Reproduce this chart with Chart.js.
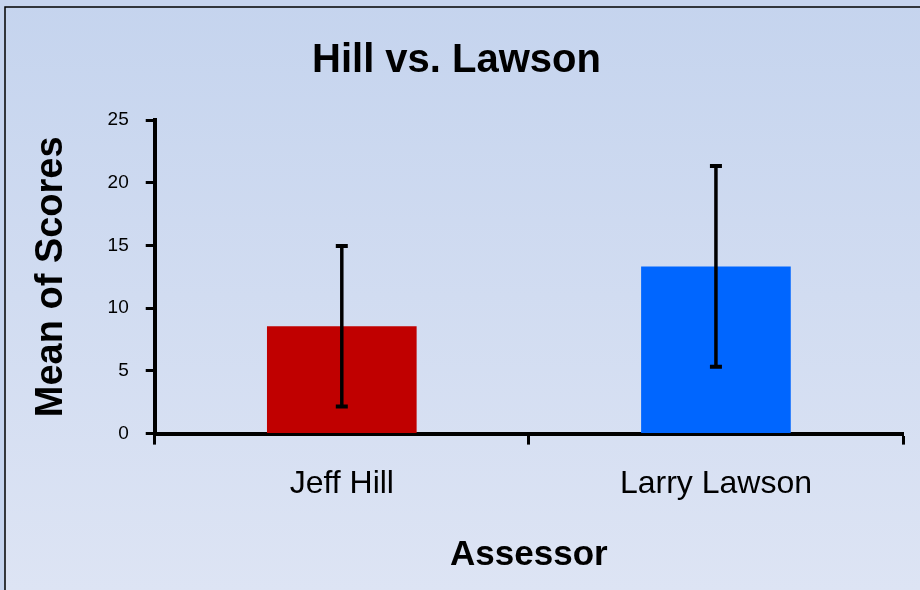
<!DOCTYPE html>
<html>
<head>
<meta charset="utf-8">
<title>Hill vs. Lawson</title>
<script src="https://cdn.jsdelivr.net/npm/chart.js@4.4.1/dist/chart.umd.min.js"></script>
<style>
    html, body { margin: 0; padding: 0; background: #c6d4ee; }
    canvas { display: block; }
</style>
</head>
<body>
<canvas id="chart" width="920" height="590"></canvas>
<script>
// data
const assessors = ['Jeff Hill', 'Larry Lawson'];
const meanScores = [8.56, 13.33];
const sdScores = [6.4, 8.0];
const barColors = ['#C00000', '#0066FF'];
const yMin = 0;
const yMax = 25;
const yStep = 5;

const fontName = "'Liberation Sans', Arial, sans-serif";

// gradient background + frame like the excel chart box
const chartBox = {
    id: 'chartBox',
    beforeDraw(chart) {
        const ctx = chart.ctx;
        const w = chart.width, h = chart.height;
        ctx.save();
        ctx.fillStyle = '#c6d4ee';
        ctx.fillRect(0, 0, w, h);
        const grad = ctx.createLinearGradient(0, 0, 0, h);
        grad.addColorStop(0, '#c5d4ee');
        grad.addColorStop(1, '#dde4f4');
        ctx.fillStyle = grad;
        ctx.fillRect(5, 7, w, h);
        ctx.strokeStyle = '#000';
        ctx.lineWidth = 1.5;
        ctx.strokeRect(5, 7, w + 10, h + 10);
        ctx.restore();
    }
};

// standard deviation whiskers
const errorBars = {
    id: 'errorBars',
    afterDatasetsDraw(chart) {
        const ctx = chart.ctx;
        const yScale = chart.scales.y;
        const meta = chart.getDatasetMeta(0);
        ctx.save();
        ctx.strokeStyle = '#000';
        meta.data.forEach((bar, i) => {
            const x = bar.x;
            const top = yScale.getPixelForValue(meanScores[i] + sdScores[i]);
            const bottom = yScale.getPixelForValue(meanScores[i] - sdScores[i]);
            ctx.lineWidth = 3.5;
            ctx.beginPath();
            ctx.moveTo(x, top);
            ctx.lineTo(x, bottom);
            ctx.stroke();
            ctx.lineWidth = 4;
            ctx.beginPath();
            ctx.moveTo(x - 6, top);
            ctx.lineTo(x + 6, top);
            ctx.moveTo(x - 6, bottom);
            ctx.lineTo(x + 6, bottom);
            ctx.stroke();
        });
        ctx.restore();
    }
};

new Chart(document.getElementById('chart'), {
    type: 'bar',
    data: {
        labels: assessors,
        datasets: [{
            data: meanScores,
            backgroundColor: barColors,
            borderWidth: 0,
            barPercentage: 0.4,
            categoryPercentage: 1
        }]
    },
    options: {
        responsive: false,
        animation: false,
        layout: {
            padding: { left: 10, right: 17, top: 10, bottom: 9 }
        },
        plugins: {
            legend: { display: false },
            tooltip: { enabled: false },
            title: {
                display: true,
                text: 'Hill vs. Lawson',
                color: '#000',
                font: { family: fontName, size: 40, weight: 'bold' },
                padding: { top: 27, bottom: 35 }
            }
        },
        scales: {
            x: {
                grid: {
                    drawOnChartArea: false,
                    drawTicks: true,
                    tickLength: 11,
                    tickWidth: 3,
                    tickColor: '#000'
                },
                border: { display: true, color: '#000', width: 4 },
                ticks: {
                    color: '#000',
                    padding: 20,
                    font: { family: fontName, size: 32 }
                },
                title: {
                    display: true,
                    text: 'Assessor',
                    color: '#000',
                    font: { family: fontName, size: 35, weight: 'bold' },
                    padding: { top: 11, bottom: 5 }
                }
            },
            y: {
                min: yMin,
                max: yMax,
                grid: {
                    drawOnChartArea: false,
                    drawTicks: true,
                    tickLength: 9,
                    tickWidth: 3,
                    tickColor: '#000'
                },
                border: { display: true, color: '#000', width: 4 },
                ticks: {
                    stepSize: yStep,
                    color: '#000',
                    padding: 17,
                    font: { family: fontName, size: 19 }
                },
                title: {
                    display: true,
                    text: 'Mean of Scores',
                    color: '#000',
                    font: { family: fontName, size: 38, weight: 'bold' },
                    padding: { top: 19, bottom: 16 }
                }
            }
        }
    },
    plugins: [chartBox, errorBars]
});
</script>
</body>
</html>
